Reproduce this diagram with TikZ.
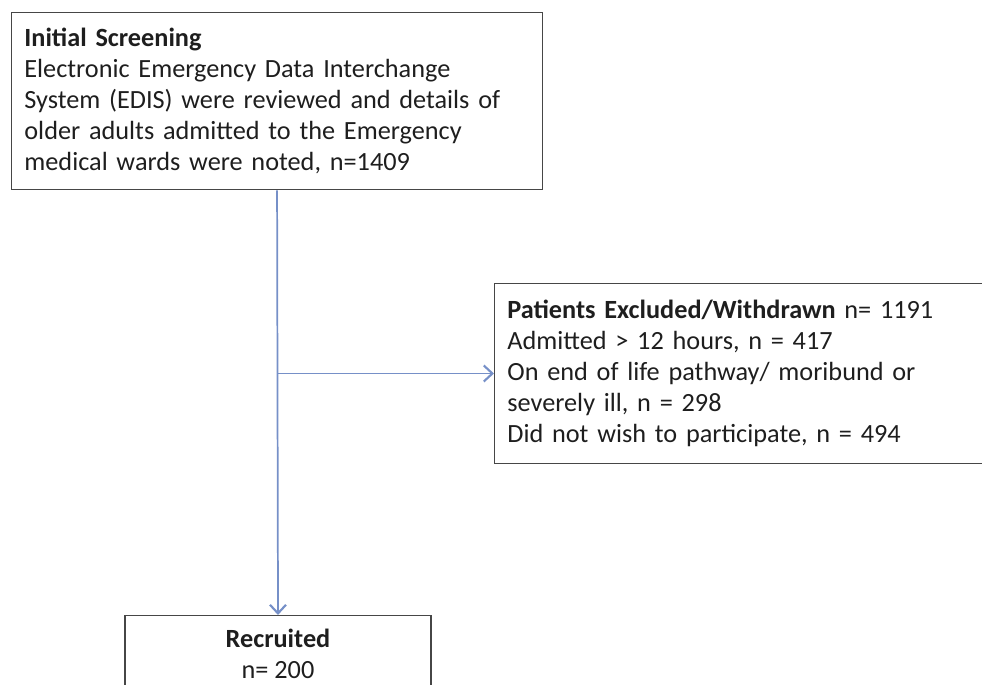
\documentclass[tikz,border=0pt]{standalone}
\usepackage{fontspec}
\setmainfont{Carlito}
\usetikzlibrary{arrows.meta}
\definecolor{conn}{RGB}{118,144,200}
\definecolor{boxline}{RGB}{70,70,70}
\definecolor{txt}{RGB}{30,30,30}
\tikzset{
  flowbox/.style={draw=boxline, line width=1.1pt, rectangle, text=txt,
    font=\fontsize{19.7}{23.3}\selectfont, inner xsep=9.5pt, inner ysep=0pt},
  conline/.style={draw=conn, line width=1.3pt},
  conarrow/.style={conline, -{Straight Barb[length=6.5pt,width=12pt,line width=1.6pt]}}
}
\begin{document}
\begin{tikzpicture}[x=0.75pt,y=-0.75pt]
\useasboundingbox (0,0) rectangle (982,685);
\clip (0,0) rectangle (982,685);
\node[flowbox, anchor=north west, text width=379pt, minimum height=132.75pt, align=left] (screen) at (11,12)
  {\textbf{Initial Screening}\\
   Electronic Emergency Data Interchange\\
   System (EDIS) were reviewed and details of\\
   older adults admitted to the Emergency\\
   medical wards were noted, n=1409};
\node[flowbox, anchor=north west, text width=380pt, minimum height=135pt, align=left] (excl) at (494,283)
  {\textbf{Patients Excluded/Withdrawn} n= 1191\\
   Admitted > 12 hours, n = 417\\
   On end of life pathway/ moribund or\\
   severely ill, n = 298\\
   Did not wish to participate, n = 494};
\node[flowbox, anchor=north, minimum width=229.5pt, minimum height=57pt, align=center] (recr) at (278,615)
  {\textbf{Recruited}\\ n= 200};
\draw[draw=boxline, line width=1.1pt] (recr.south west) -- ++(0,-20) (recr.south east) -- ++(0,-20);
\coordinate (branch) at (277,373.5);
\draw[conarrow] (screen.south) -- (recr.north);
\draw[conarrow] (branch) -- (branch -| excl.west);
\end{tikzpicture}
\end{document}
